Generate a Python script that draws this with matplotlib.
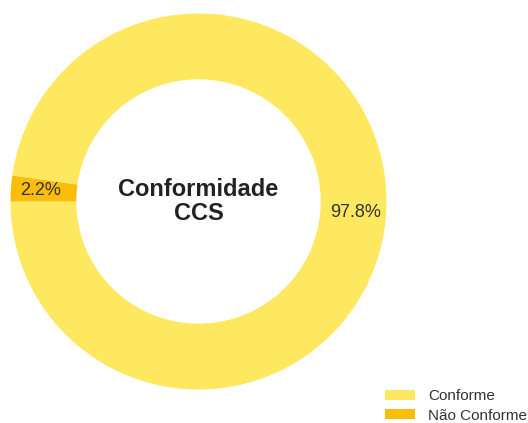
import matplotlib.pyplot as plt
from matplotlib.patches import Patch

labels = ["Conforme", "Não Conforme"]
values = [97.8, 2.2]
colors = ["#FDE85F", "#F9BD0A"]

plt.rcParams['font.family'] = ['Liberation Sans', 'DejaVu Sans']

fig = plt.figure(figsize=(5.28, 4.23), dpi=100)
ax = fig.add_axes([10.5/528, 33.5/423, 376/528, 376/423])

wedges, texts, autotexts = ax.pie(values, colors=colors, startangle=180, counterclock=True,
                                  autopct='%.1f%%', pctdistance=0.84,
                                  wedgeprops=dict(width=0.35, edgecolor='none'),
                                  textprops=dict(color='#333333', fontsize=13))
ax.set_xlim(-1, 1)
ax.set_ylim(-1, 1)
ax.set_aspect('equal')
ax.text(0, 0.0, "Conformidade\nCCS", ha='center', va='center', fontsize=17,
        fontweight='bold', color='#222222', linespacing=1.06)

handles = [Patch(facecolor=c, edgecolor='none') for c in colors]
fig.legend(handles, labels, loc='upper left', bbox_to_anchor=(385/528, 1 - 389/423),
           frameon=False, fontsize=11, handlelength=1.95, handleheight=0.65,
           labelcolor='#333333', handletextpad=0.85, labelspacing=0.36,
           borderaxespad=0, borderpad=0)

fig.savefig("out.png", dpi=100)
